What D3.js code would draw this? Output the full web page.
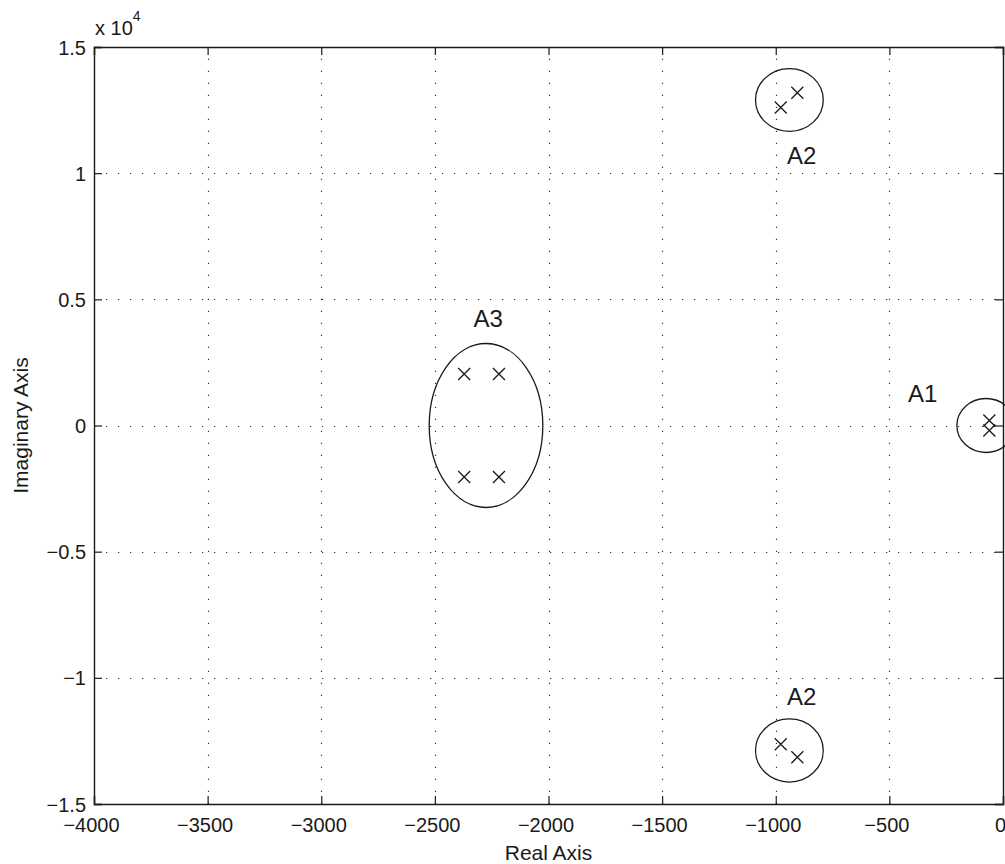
<!DOCTYPE html>
<html>
<head>
<meta charset="utf-8">
<script src="https://cdn.jsdelivr.net/npm/d3@7"></script>
<style>
  body { margin: 0; background: #fff; }
  svg { display: block; font-family: "Liberation Sans", Arial, sans-serif; }
</style>
</head>
<body>
<svg id="pz" width="1005" height="864"></svg>
<script>
// axis ticks
const realTicks = [-4000, -3500, -3000, -2500, -2000, -1500, -1000, -500, 0];
const imagTicks = [-15000, -10000, -5000, 0, 5000, 10000, 15000];
const imagTickLabels = ["\u22121.5", "\u22121", "\u22120.5", "0", "0.5", "1", "1.5"];

// poles (real, imag)
const poleRe = [-60, -60, -978, -905, -978, -905, -2371, -2218, -2371, -2218];
const poleIm = [200, -200, 12600, 13190, -12630, -13150, 2040, 2040, -2040, -2040];

// groups circled on the plot
const groupNames = ["A1", "A2", "A2", "A3"];
const groupCenterRe = [-75, -940, -940, -2275];
const groupCenterIm = [0, 12900, -12880, 0];
const groupRadRe = [128, 149, 149, 250];
const groupRadIm = [1070, 1240, 1250, 3250];
const labelRe = [-353, -886, -886, -2265];
const labelIm = [1276, 10717, -10745, 4247];

const svg = d3.select("#pz");
const margin = { left: 94, top: 47, right: 2, bottom: 60 };
const W = 1005, H = 864;

const x = d3.scaleLinear().domain([-4000, 0]).range([margin.left, W - margin.right]);
const y = d3.scaleLinear().domain([-15000, 15000]).range([H - margin.bottom, margin.top]);

const ink = "#1a1a1a";
const x0 = x.range()[0], x1 = x.range()[1];
const y0 = y.range()[0], y1 = y.range()[1];

// gridlines
const grid = svg.append("g").attr("stroke", "#333").attr("stroke-width", 1.2)
  .attr("stroke-dasharray", "1.2,10.8");
grid.selectAll(".gx").data(realTicks.slice(1, -1)).join("line")
  .attr("x1", d => Math.round(x(d)) + 0.5).attr("x2", d => Math.round(x(d)) + 0.5)
  .attr("y1", y0).attr("y2", y1);
grid.selectAll(".gy").data(imagTicks.slice(1, -1)).join("line")
  .attr("y1", d => Math.round(y(d)) + 0.5).attr("y2", d => Math.round(y(d)) + 0.5)
  .attr("x1", x0).attr("x2", x1);

// axes with inner ticks on all four sides
const tl = 8;
const axB = svg.append("g").attr("transform", `translate(0,${y0})`)
  .call(d3.axisBottom(x).tickValues(realTicks).tickSize(-tl).tickPadding(14)
    .tickFormat(d => d3.format("d")(d).replace("-", "\u2212")));
const axT = svg.append("g").attr("transform", `translate(0,${y1})`)
  .call(d3.axisTop(x).tickValues(realTicks).tickSize(-tl).tickFormat(""));
const axL = svg.append("g").attr("transform", `translate(${x0},0)`)
  .call(d3.axisLeft(y).tickValues(imagTicks).tickSize(-tl).tickPadding(8)
    .tickFormat((d, i) => imagTickLabels[i]));
const axR = svg.append("g").attr("transform", `translate(${x1},0)`)
  .call(d3.axisRight(y).tickValues(imagTicks).tickSize(-tl).tickFormat(""));

[axB, axT, axL, axR].forEach(g => {
  g.select(".domain").attr("stroke", ink).attr("stroke-width", 1.4);
  g.selectAll(".tick line").attr("stroke", ink).attr("stroke-width", 1.2);
  g.selectAll(".tick text").attr("fill", ink).attr("font-size", 20)
    .attr("font-family", "Liberation Sans, Arial, sans-serif");
});
axL.selectAll(".tick text").attr("dy", "0.35em");
axB.selectAll(".tick text").attr("dx", "-0.15em");

// exponent label
const ex = svg.append("text").attr("x", 95).attr("y", 35).attr("fill", ink)
  .attr("font-size", 20);
ex.append("tspan").text("x 10");
ex.append("tspan").attr("font-size", 14).attr("dy", -14).text("4");

// axis titles
svg.append("text").attr("x", (x0 + x1) / 2).attr("y", 860)
  .attr("text-anchor", "middle").attr("fill", ink).attr("font-size", 21)
  .text("Real Axis");
svg.append("text")
  .attr("transform", `translate(28,${(y0 + y1) / 2}) rotate(-90)`)
  .attr("text-anchor", "middle").attr("fill", ink).attr("font-size", 21)
  .text("Imaginary Axis");

// group ellipses
const gEl = svg.append("g");
groupNames.forEach((n, i) => {
  gEl.append("ellipse")
    .attr("cx", x(groupCenterRe[i])).attr("cy", y(groupCenterIm[i]))
    .attr("rx", x(groupRadRe[i]) - x(0)).attr("ry", y(0) - y(groupRadIm[i]))
    .attr("fill", "none").attr("stroke", ink).attr("stroke-width", 1.3);
  gEl.append("text")
    .attr("x", x(labelRe[i])).attr("y", y(labelIm[i])).attr("dy", "0.36em")
    .attr("text-anchor", "middle").attr("fill", ink).attr("font-size", 24)
    .text(n);
});

// pole markers
const s = 6;
const gP = svg.append("g").attr("stroke", ink).attr("stroke-width", 1.3);
poleRe.forEach((re, i) => {
  const px = x(re), py = y(poleIm[i]);
  gP.append("path").attr("d", `M${px - s},${py - s}L${px + s},${py + s}M${px - s},${py + s}L${px + s},${py - s}`);
});
</script>
</body>
</html>
